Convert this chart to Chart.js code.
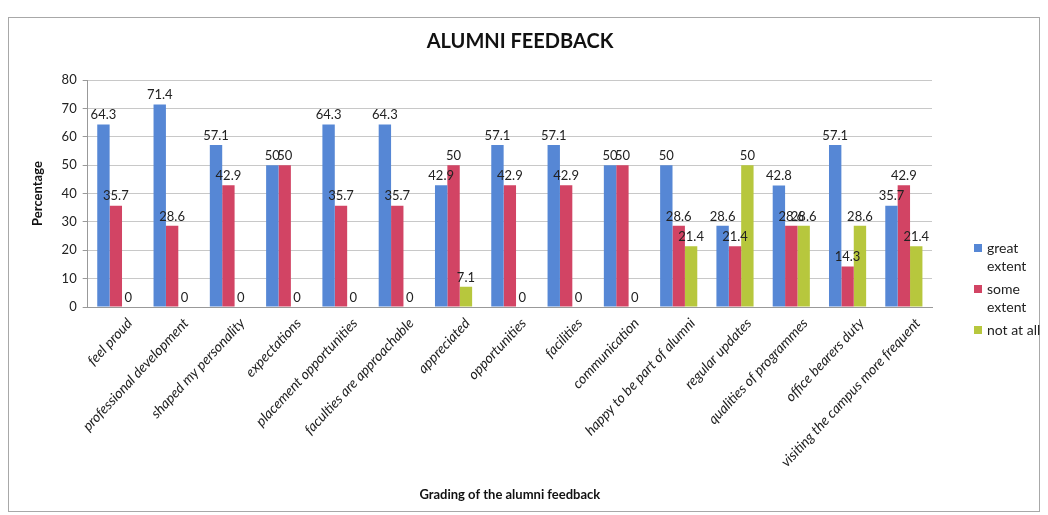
<!DOCTYPE html>
<html>
<head>
<meta charset="utf-8">
<script src="https://cdn.jsdelivr.net/npm/chart.js@4/dist/chart.umd.min.js"></script>
<style>
  html, body { margin: 0; padding: 0; background: #fff; }
  #wrap { position: relative; width: 1048px; height: 515px; }
</style>
</head>
<body>
<div id="wrap"><canvas id="c" width="1048" height="515"></canvas></div>
<script>
const categories = [
  "feel proud", "professional development", "shaped my personality", "expectations",
  "placement opportunities", "faculties are approachable", "appreciated", "opportunities",
  "facilities", "communication", "happy to be part of alumni", "regular updates",
  "qualities of programmes", "office bearers duty", "visiting the campus more frequent"
];
const seriesNames = ["great extent", "some extent", "not at all"];
const greatExtent = [64.3, 71.4, 57.1, 50, 64.3, 64.3, 42.9, 57.1, 57.1, 50, 50, 28.6, 42.8, 57.1, 35.7];
const someExtent  = [35.7, 28.6, 42.9, 50, 35.7, 35.7, 50, 42.9, 42.9, 50, 28.6, 21.4, 28.6, 14.3, 42.9];
const notAtAll    = [0, 0, 0, 0, 0, 0, 7.1, 0, 0, 0, 21.4, 50, 28.6, 28.6, 21.4];
const yTicks = [0, 10, 20, 30, 40, 50, 60, 70, 80];
const chartTitle = "ALUMNI FEEDBACK";

const colors = ["#5687d5", "#d24464", "#b7c73d"];
const FONT = "Lato, 'Open Sans', 'Liberation Sans', sans-serif";

const frame = {
  id: "frame",
  beforeDraw(chart) {
    const ctx = chart.ctx;
    ctx.save();
    ctx.fillStyle = "#fff";
    ctx.fillRect(0, 0, chart.width, chart.height);
    ctx.strokeStyle = "#a8a8a8";
    ctx.lineWidth = 1;
    ctx.strokeRect(8.5, 17.5, 1031, 494);
    ctx.restore();
  }
};

const topTitle = {
  id: "topTitle",
  afterDraw(chart) {
    const ctx = chart.ctx;
    ctx.save();
    ctx.font = "bold 20px " + FONT;
    ctx.fillStyle = "#111";
    ctx.textAlign = "center";
    ctx.textBaseline = "middle";
    ctx.fillText(chartTitle, 520, 42);
    ctx.restore();
  }
};

const valueLabels = {
  id: "valueLabels",
  afterDatasetsDraw(chart) {
    const ctx = chart.ctx;
    ctx.save();
    ctx.font = "13px " + FONT;
    ctx.fillStyle = "#222";
    ctx.textAlign = "center";
    ctx.textBaseline = "bottom";
    chart.data.datasets.forEach((ds, i) => {
      const meta = chart.getDatasetMeta(i);
      meta.data.forEach((el, j) => {
        ctx.fillText(String(ds.data[j]), el.x, el.y - 3);
      });
    });
    ctx.restore();
  }
};

const sideLegend = {
  id: "sideLegend",
  afterDraw(chart) {
    const ctx = chart.ctx;
    ctx.save();
    ctx.font = "14px " + FONT;
    ctx.fillStyle = "#222";
    ctx.textBaseline = "middle";
    ctx.textAlign = "left";
    const x0 = 974, textX = 987, maxW = 55, lineH = 18;
    let y = 248;
    chart.data.datasets.forEach((ds) => {
      const words = ds.label.split(" ");
      const lines = [];
      let cur = "";
      words.forEach(w => {
        const t = cur ? cur + " " + w : w;
        if (cur && ctx.measureText(t).width > maxW) { lines.push(cur); cur = w; }
        else cur = t;
      });
      if (cur) lines.push(cur);
      ctx.fillStyle = ds.backgroundColor;
      ctx.fillRect(x0, y - 4, 8, 8);
      ctx.fillStyle = "#222";
      lines.forEach((ln, k) => ctx.fillText(ln, textX, y + k * lineH));
      y += lines.length * lineH + 5;
    });
    ctx.restore();
  }
};

new Chart(document.getElementById("c"), {
  type: "bar",
  data: {
    labels: categories,
    datasets: [
      { label: seriesNames[0], data: greatExtent, backgroundColor: colors[0] },
      { label: seriesNames[1], data: someExtent, backgroundColor: colors[1] },
      { label: seriesNames[2], data: notAtAll, backgroundColor: colors[2] }
    ]
  },
  options: {
    responsive: false,
    animation: false,
    layout: { padding: { left: 30, right: 116, top: 80, bottom: 12 } },
    datasets: { bar: { categoryPercentage: 0.66, barPercentage: 1.0 } },
    plugins: {
      legend: { display: false },
      tooltip: { enabled: false },
      title: { display: false }
    },
    scales: {
      x: {
        grid: { display: false, drawTicks: false },
        border: { color: "#999" },
        ticks: {
          color: "#222",
          font: { family: FONT, size: 14, style: "italic" },
          minRotation: 47, maxRotation: 47, padding: 8, autoSkip: false,
          labelOffset: 14
        },
        title: {
          display: true,
          text: "Grading of the alumni feedback",
          color: "#111",
          font: { family: FONT, size: 13, weight: "bold" },
          padding: { top: 9, bottom: 0 }
        }
      },
      y: {
        min: yTicks[0], max: yTicks[yTicks.length - 1],
        afterBuildTicks(axis) { axis.ticks = yTicks.map(v => ({ value: v })); },
        grid: { color: "#c8c8c8", drawTicks: true, tickLength: 5, tickColor: "#999" },
        border: { color: "#999" },
        ticks: { color: "#222", font: { family: FONT, size: 13 }, padding: 6 },
        title: {
          display: true,
          text: "Percentage",
          color: "#111",
          font: { family: FONT, size: 13, weight: "bold" },
          padding: { top: 0, bottom: 10 }
        }
      }
    }
  },
  plugins: [frame, topTitle, valueLabels, sideLegend]
});
</script>
</body>
</html>
